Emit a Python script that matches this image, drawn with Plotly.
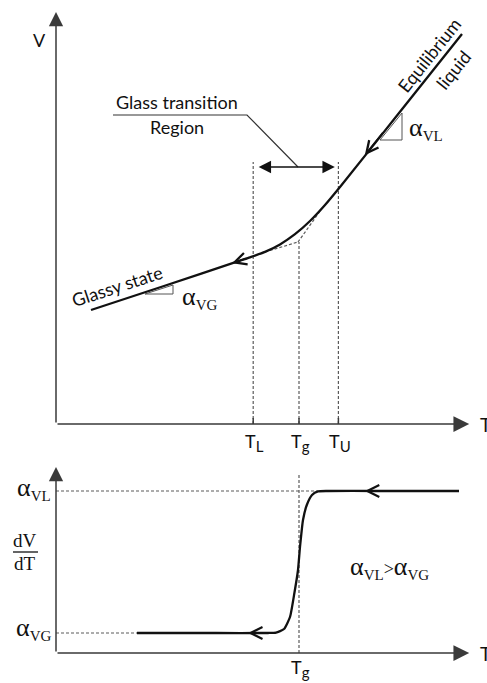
import plotly.graph_objects as go

# ---------------- data ----------------
# characteristic temperatures (arbitrary units)
T_L, T_G, T_U = 4.93, 6.075, 7.06
T_AXIS_END = 10.33
V_AXIS_END = 10.3
A_AXIS_END = 9.3

# V(T) on cooling: glassy line -> transition -> equilibrium liquid
cool_T = [0.875, 2.7, 4.6, 4.85, 5.225, 5.6, 5.975, 6.35, 6.725, 7.1, 8.6, 10.15]
cool_V = [2.85, 3.45, 4.085, 4.1675, 4.3025, 4.49, 4.745, 5.075, 5.475, 5.925, 7.806, 9.75]

# extrapolated glass and liquid lines meeting near Tg
glass_ext_T = [5.225, 6.05]
glass_ext_V = [4.30, 4.55]
liq_ext_T = [6.6, 6.05]
liq_ext_V = [5.32, 4.55]

# slope triangles
tri_vl_T = [8.1, 8.65, 8.65]
tri_vl_V = [7.1, 7.1, 7.775]
tri_vg_T = [2.225, 2.925, 2.925]
tri_vg_V = [3.25, 3.25, 3.475]

# dV/dT on cooling
ALPHA_VG, ALPHA_VL = 1.0, 8.1
dvdt_T = [2.025, 4.0, 5.3, 5.5, 5.7, 5.85, 5.96, 6.05, 6.1, 6.175, 6.27, 6.4, 6.55, 6.8, 8.0, 10.075]
dvdt_A = [1.0, 1.0, 1.0, 1.02, 1.2, 1.8, 3.0, 4.15, 5.3, 6.65, 7.4, 7.9, 8.08, 8.1, 8.1, 8.1]
T_VL_DOT_END = 6.55

# ---------------- styles ----------------
SANS = "Lato"
SERIF = "Liberation Serif"
INK = "#111111"
AXIS = "#3a3a3a"
DOT = "#5a5a5a"
DOT_DASH = "3px,2px"

fig = go.Figure()


def line(x, y, axes, color=INK, width=2.2, dash=None, shape="linear", smoothing=0.6):
    fig.add_trace(go.Scatter(
        x=x, y=y, mode="lines", xaxis=axes[0], yaxis=axes[1],
        line=dict(color=color, width=width, dash=dash, shape=shape, smoothing=smoothing),
        hoverinfo="skip", showlegend=False, cliponaxis=False))


TOP = ("x", "y")
BOT = ("x2", "y2")

# ---- top panel ----
line([T_L, T_L], [0, 6.55], TOP, DOT, 1.2, DOT_DASH)
line([T_U, T_U], [0, 6.55], TOP, DOT, 1.2, DOT_DASH)
line([T_G, T_G], [0, glass_ext_V[-1]], TOP, DOT, 1.2, DOT_DASH)
line(glass_ext_T, glass_ext_V, TOP, DOT, 1.2, DOT_DASH)
line(liq_ext_T, liq_ext_V, TOP, DOT, 1.2, DOT_DASH)
for t in (T_L, T_G, T_U):
    line([t, t], [0, 0.15], TOP, AXIS, 1.5)
line(cool_T, cool_V, TOP, INK, 2.3, shape="spline")
line(tri_vl_T + [tri_vl_T[0]], tri_vl_V + [tri_vl_V[0]], TOP, "#555", 1.0)
line(tri_vg_T + [tri_vg_T[0]], tri_vg_V + [tri_vg_V[0]], TOP, "#555", 1.0)
# leader of the "Glass transition Region" label
line([1.425, 4.775, 6.05], [7.725, 7.725, 6.425], TOP, "#333", 1.2)

# ---- bottom panel ----
line([0, T_VL_DOT_END], [ALPHA_VL, ALPHA_VL], BOT, DOT, 1.2, DOT_DASH)
line([0, dvdt_T[0]], [ALPHA_VG, ALPHA_VG], BOT, DOT, 1.2, DOT_DASH)
line([T_G, T_G], [0, 9.0], BOT, DOT, 1.2, DOT_DASH)
line(dvdt_T, dvdt_A, BOT, INK, 2.3, shape="spline", smoothing=0.5)

ann = []


def arrow(x, y, ax, ay, xr, yr, head=2, size=1.6, width=1.5, color=AXIS, both=False):
    d = dict(x=x, y=y, ax=ax, ay=ay, xref=xr, yref=yr, axref=xr, ayref=yr,
             text="", showarrow=True, arrowhead=head, arrowsize=size,
             arrowwidth=width, arrowcolor=color)
    if both:
        d.update(arrowside="end+start", startarrowhead=head, startarrowsize=size)
    ann.append(d)


def text(s, x, y, xr, yr, size=18, family=SANS, xanchor="center", yanchor="middle",
         angle=0, yshift=0):
    ann.append(dict(text=s, x=x, y=y, xref=xr, yref=yr, showarrow=False,
                    xanchor=xanchor, yanchor=yanchor, textangle=angle, yshift=yshift,
                    font=dict(family=family, size=size, color=INK)))


# axes with arrow tips
arrow(T_AXIS_END, 0, 0, 0, "x", "y", size=2.1)
arrow(0, V_AXIS_END, 0, 0, "x", "y", size=1.9)
arrow(T_AXIS_END, 0, 0, 0, "x2", "y2", size=2.1)
arrow(0, A_AXIS_END, 0, 0, "x2", "y2", size=1.9)

# glass transition range double arrow
arrow(6.97, 6.425, 5.03, 6.425, "x", "y", head=2, size=1.9, width=1.3, color=INK, both=True)

# cooling direction chevrons
CHEV = dict(head=5, size=1.3, width=1.8, color=INK)
arrow(7.72, 6.72, 8.2, 7.32, "x", "y", **CHEV)
arrow(4.4, 4.02, 4.75, 4.135, "x", "y", **CHEV)
arrow(4.8, ALPHA_VG, 5.2, ALPHA_VG, "x2", "y2", **CHEV)
arrow(7.72, ALPHA_VL, 8.2, ALPHA_VL, "x2", "y2", **CHEV)

SUB = '<sub><span style="font-size:15px">%s</span></sub>'

# top panel labels
text("V", -0.425, 9.6, "x", "y", size=18)
text("T", 10.55, 0, "x", "y", size=19, xanchor="left")
text("T" + SUB % "L", T_L + 0.04, -0.45, "x", "y", size=18)
text("T" + SUB % "g", T_G + 0.04, -0.45, "x", "y", size=18)
text("T" + SUB % "U", T_U + 0.04, -0.45, "x", "y", size=18)
text("Glass transition", 3.025, 8.05, "x", "y", size=18)
text("Region", 3.025, 7.42, "x", "y", size=18)
text("Equilibrium", 9.33, 9.22, "x", "y", size=18, angle=-51.4)
text("liquid", 9.93, 8.85, "x", "y", size=18, angle=-51.4)
text("Glassy state", 1.525, 3.45, "x", "y", size=18, angle=-18.2)
text("α" + SUB % "VL", 8.775, 7.4, "x", "y", size=26, family=SERIF, xanchor="left")
text("α" + SUB % "VG", 3.1, 3.175, "x", "y", size=26, family=SERIF, xanchor="left")

# bottom panel labels
text("α" + SUB % "VL", -0.075, ALPHA_VL, "x2", "y2", size=26, family=SERIF,
     xanchor="right", yshift=3)
text("α" + SUB % "VG", -0.075, ALPHA_VG, "x2", "y2", size=26, family=SERIF,
     xanchor="right", yshift=5)
text("dV", -0.775, 5.65, "x2", "y2", size=19, family=SERIF)
text("dT", -0.775, 4.5, "x2", "y2", size=19, family=SERIF)
text("α" + SUB % "VL" + '<span style="font-size:18px">&gt;</span>' + "α" + SUB % "VG",
     8.325, 4.3, "x2", "y2", size=26, family=SERIF)
text("T" + SUB % "g", T_G + 0.04, -0.75, "x2", "y2", size=18)
text("T", 10.55, 0, "x2", "y2", size=19, xanchor="left")

fig.update_layout(
    width=487, height=683, margin=dict(l=0, r=0, t=0, b=0),
    paper_bgcolor="white", plot_bgcolor="white",
    annotations=ann,
    shapes=[dict(type="line", xref="x2", yref="y2", x0=-1.075, x1=-0.45, y0=5.05, y1=5.05,
                 line=dict(color=INK, width=1.3))],
    xaxis=dict(domain=[0, 1], range=[-1.4, 10.775], visible=False, fixedrange=True),
    yaxis=dict(domain=[1 - 450 / 683, 1], range=[-0.65, 10.6], visible=False, fixedrange=True),
    xaxis2=dict(domain=[0, 1], range=[-1.4, 10.775], visible=False, fixedrange=True, anchor="y2"),
    yaxis2=dict(domain=[0, 228 / 683], range=[-1.5, 9.9], visible=False, fixedrange=True, anchor="x2"),
)

fig.write_html("out.html")
